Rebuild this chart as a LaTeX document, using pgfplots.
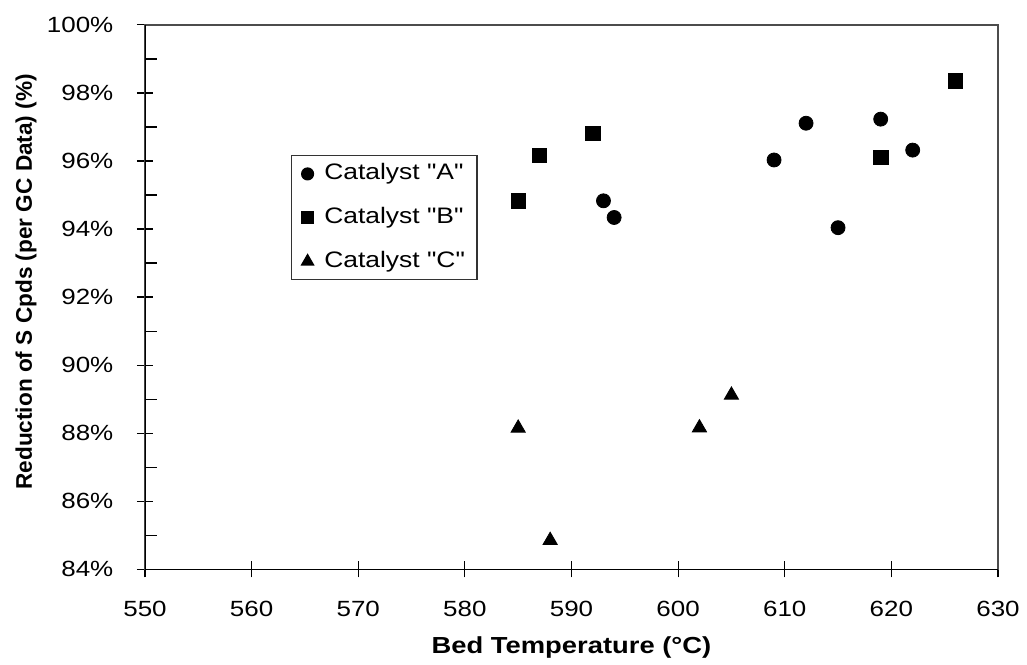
\documentclass[border=0pt]{standalone}
\usepackage{fontspec}
\setmainfont{Liberation Sans}[FakeStretch=1.18, Ligatures=TeXOff]
\newfontfamily\ylabfont{Liberation Sans}
\usepackage{pgfplots}
\pgfplotsset{compat=1.18}
\begin{document}
\begin{tikzpicture}
\begin{axis}[
  at={(0,0)}, anchor=south west,
  width=426.5pt, height=272.2pt, scale only axis,
  xmin=550, xmax=630, ymin=84, ymax=100,
  xtick={550,560,...,630},
  ytick={84,86,...,100},
  minor ytick={85,87,...,99},
  tick pos=left,
  tick align=center,
  major tick length=8pt,
  minor tick length=6pt,
  minor y tick style={xshift=3pt},
  tick style={black, line width=0.6pt},
  axis line style={draw=black!70, line width=0.8pt},
  /pgf/number format/assume math mode=true,
  yticklabel={\pgfmathprintnumber[fixed,precision=0]{\tick}\%},
  ticklabel style={font=\fontsize{11pt}{13pt}\selectfont},
  yticklabel style={xshift=-8.3pt},
  xticklabel style={yshift=-8.3pt},
  xlabel={Bed Temperature (°C)},
  xlabel style={at={(axis description cs:0.5,0)}, anchor=north, yshift=-30pt, font=\fontsize{11.6pt}{14pt}\selectfont\bfseries},
  ylabel={Reduction of S Cpds (per GC Data) (\%)},
  ylabel style={at={(axis description cs:-0.1325,0.528)}, anchor=base, rotate=0, font=\fontsize{11.3pt}{14pt}\ylabfont\bfseries},
  legend style={at={(0.171,0.761)}, anchor=north west, draw=black!80, line width=0.6pt,
    font=\fontsize{11.2pt}{13pt}\selectfont, inner xsep=5pt, inner ysep=3pt, row sep=9.6pt,
    column sep=4.3pt,
    nodes={inner sep=1pt, text height=8pt, text depth=2.3pt}},
  legend cell align=left,
  legend image code/.code={\draw[#1, /tikz/every mark/.append style={scale=0.85}] plot coordinates {(0pt,0pt)};},
]
\draw[black, line width=0.8pt] (rel axis cs:0,1) -- (rel axis cs:0,0) -- (rel axis cs:1,0);
\addplot[only marks, mark=*, mark size=3.5pt, black] coordinates {
  (593,94.83) (594,94.34) (609,96.03) (612,97.11) (615,94.04) (619,97.23) (622,96.32)
};
\addlegendentry{Catalyst "A"}
\addplot[only marks, mark=square*, mark size=3.6pt, black] coordinates {
  (585,94.83) (587,96.16) (592,96.81) (619,96.10) (626,98.35)
};
\addlegendentry{Catalyst "B"}
\addplot[only marks, mark=triangle*, mark size=4.1pt, black] coordinates {
  (585,88.15) (588,84.85) (602,88.16) (605,89.12)
};
\addlegendentry{Catalyst "C"}
\end{axis}
\pgfresetboundingbox
\path (-72.5pt,-47.35pt) rectangle (441pt,284.65pt);
\end{tikzpicture}
\end{document}
